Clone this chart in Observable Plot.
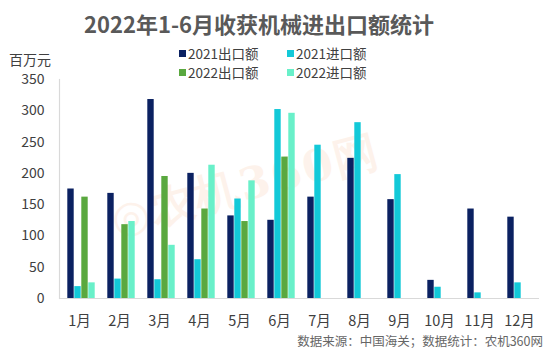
<!DOCTYPE html>
<html>
<head>
<meta charset="utf-8">
<script src="https://cdn.jsdelivr.net/npm/d3@7"></script>
<script src="https://cdn.jsdelivr.net/npm/@observablehq/plot@0.6"></script>
<style>
  html, body { margin: 0; padding: 0; background: #fff; }
  #wrap { position: relative; width: 554px; height: 353px; overflow: hidden; font-family: "Noto Sans CJK SC", "Noto Sans", sans-serif; }
  #title { position: absolute; left: 0; width: 518px; top: 6px; text-align: center; font-size: 22px; font-weight: bold; color: #595959; line-height: 34px; }
  #unit { position: absolute; left: 9px; top: 50px; font-size: 14px; color: #404040; line-height: 18px; }
  #legend { position: absolute; left: 179px; top: 44px; display: grid; grid-template-columns: 108px 110px; row-gap: 1px; font-size: 13.5px; color: #404040; line-height: 18px; }
  #legend .it { display: flex; align-items: center; white-space: nowrap; }
  #legend .sw { width: 7px; height: 7px; margin-right: 2px; }
  #wm { position: absolute; left: 112px; top: 192px; font-size: 44px; font-weight: 900; color: #f6a26a; opacity: 0.13; transform: rotate(-15deg); transform-origin: left center; white-space: nowrap; font-family: "DejaVu Serif", serif; letter-spacing: 2px; }
  #plot { position: absolute; left: 0; top: 60px; }
  #src { position: absolute; right: 11px; top: 332px; font-size: 12.5px; color: #666; line-height: 18px; }
</style>
</head>
<body>
<div id="wrap">
  <div id="wm">◎农机360网</div>
  <div id="title"></div>
  <div id="unit"></div>
  <div id="legend"></div>
  <div id="plot"></div>
  <div id="src"></div>
</div>
<script>
const titleText = "2022年1-6月收获机械进出口额统计";
const unitText = "百万元";
const sourceText = "数据来源：中国海关；数据统计：农机360网";
const months = ["1月","2月","3月","4月","5月","6月","7月","8月","9月","10月","11月","12月"];
const series = ["2021出口额","2021进口额","2022出口额","2022进口额"];
const colors = ["#0b2161","#13c9d8","#5aa83f","#69f0c9"];
const legendOrder = ["2021出口额","2021进口额","2022出口额","2022进口额"];
const exp2021 = [175,168,318,200,132,125,162,224,158,29,143,130];
const imp2021 = [19,31,30,62,159,302,245,281,198,18,9,25];
const exp2022 = [162,118,195,143,123,226];
const imp2022 = [25,123,85,213,188,296];
const yTicks = [0,50,100,150,200,250,300,350];

const valuesBySeries = [exp2021, imp2021, exp2022, imp2022];
const data = [];
series.forEach((s, i) => {
  valuesBySeries[i].forEach((v, j) => data.push({month: months[j], series: s, value: v}));
});

document.getElementById("title").textContent = titleText;
document.getElementById("unit").textContent = unitText;
document.getElementById("src").textContent = sourceText;
const leg = document.getElementById("legend");
legendOrder.forEach(s => {
  const d = document.createElement("div");
  d.className = "it";
  const sw = document.createElement("span");
  sw.className = "sw";
  sw.style.background = colors[series.indexOf(s)];
  const t = document.createElement("span");
  t.textContent = s;
  d.appendChild(sw); d.appendChild(t);
  leg.appendChild(d);
});

const chart = Plot.plot({
  width: 554,
  height: 275,
  marginTop: 19,
  marginBottom: 37,
  marginLeft: 54,
  marginRight: 11,
  style: {fontFamily: '"Noto Sans CJK SC", "Noto Sans", sans-serif', background: "transparent"},
  fx: {domain: months, padding: 0, label: null, axis: null},
  x: {domain: series, paddingInner: 0, paddingOuter: 0.75, align: 0.69, axis: null},
  y: {domain: [0, 350], axis: null},
  color: {domain: series, range: colors},
  marks: [
    Plot.barY(data, {fx: "month", x: "series", y: "value", fill: "series", insetLeft: 0.3, insetRight: 0.3}),
    Plot.ruleY([0], {stroke: "#d9d9d9", strokeWidth: 1.2}),
    Plot.frame({anchor: "left", facet: "super", stroke: "#d9d9d9", strokeWidth: 1.2}),
    Plot.axisY({ticks: yTicks, tickSize: 0, tickPadding: 15, fontSize: 14, fill: "#404040", label: null}),
    Plot.axisFx({anchor: "bottom", domain: months, tickSize: 0, tickPadding: 17, fontSize: 14.5, fill: "#404040", label: null})
  ]
});
document.getElementById("plot").appendChild(chart);
</script>
</body>
</html>
